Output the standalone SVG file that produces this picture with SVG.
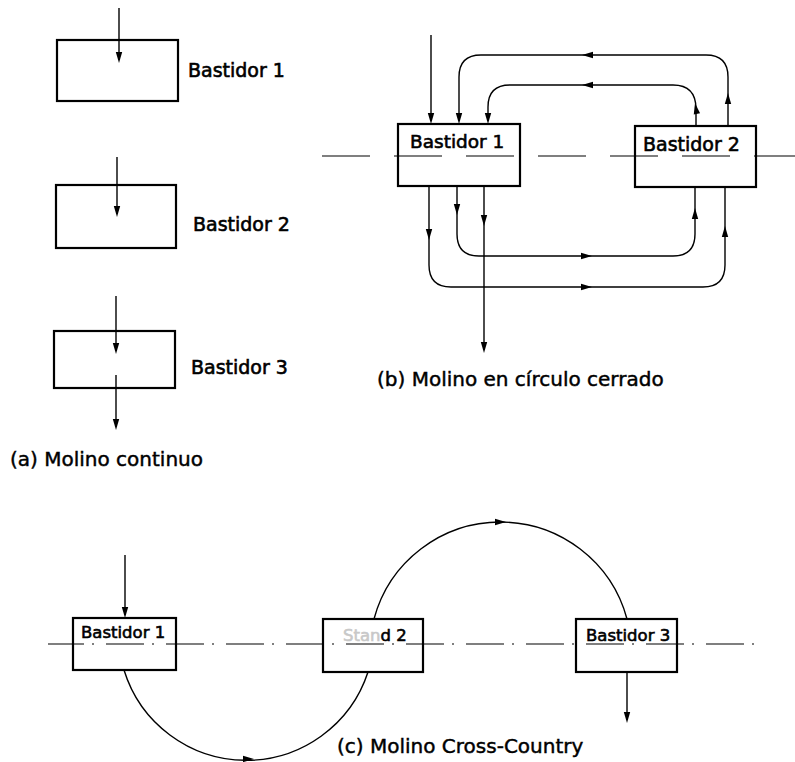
<svg xmlns="http://www.w3.org/2000/svg" xmlns:xlink="http://www.w3.org/1999/xlink" width="795" height="762" viewBox="0 0 795 762">
<style>
.box{fill:none;stroke:#000;stroke-width:2.2}
.ln{fill:none;stroke:#000;stroke-width:1.4}
.cl{fill:none;stroke:#000;stroke-width:1.2}
.t{font-family:"DejaVu Sans","Liberation Sans",sans-serif;fill:#000;stroke:#000;stroke-width:0.6}
.cap{font-family:"DejaVu Sans","Liberation Sans",sans-serif;font-size:20px;fill:#000;stroke:#000;stroke-width:0.45}
</style>
<defs>
<path id="ah" d="M0,0 L-11,-3.2 L-11,3.2 Z" fill="#000"/>
</defs>
<rect width="795" height="762" fill="#fff"/>

<!-- (a) -->
<g id="a1"><rect class="box" x="57" y="40" width="121" height="61"/><text class="t" x="188" y="77" font-size="19">Bastidor 1</text></g>
<g id="a2"><rect class="box" x="56" y="185" width="120" height="63"/><text class="t" x="193" y="231" font-size="19">Bastidor 2</text></g>
<g id="a3"><rect class="box" x="54" y="331" width="121" height="57"/><text class="t" x="191" y="374" font-size="19">Bastidor 3</text></g>
<text id="capA" class="cap" x="10" y="466">(a) Molino continuo</text>

<!-- (b) -->
<line class="cl" x1="322" y1="156" x2="795" y2="156" stroke-dasharray="48 24"/>
<g id="b1"><rect class="box" x="398" y="124" width="122" height="62"/><text class="t" x="410" y="148" font-size="18.5">Bastidor 1</text></g>
<g id="b2"><rect class="box" x="635" y="126" width="121" height="61"/><text class="t" x="643" y="151" font-size="19">Bastidor 2</text></g>
<text id="capB" class="cap" x="377" y="386">(b) Molino en círculo cerrado</text>

<!-- (c) -->
<line class="cl" x1="48" y1="644" x2="754" y2="644" stroke-dasharray="38 8 2 12" stroke-dashoffset="2"/>
<g id="c1"><rect class="box" x="73" y="618" width="103" height="52"/><text class="t" x="81" y="638" font-size="16.5">Bastidor 1</text></g>
<g id="c2"><rect class="box" x="323" y="619" width="100" height="53"/><text class="t" x="343" y="641" font-size="16.5"><tspan fill="#c8c8c8" stroke="#c8c8c8">Stan</tspan>d 2</text></g>
<g id="c3"><rect class="box" x="576" y="619" width="101" height="53"/><text class="t" x="586" y="641" font-size="16.5">Bastidor 3</text></g>
<text id="capC" class="cap" x="337" y="753">(c) Molino Cross-Country</text>

<g id="connectors">
<!-- (a) -->
<line class="ln" x1="119" y1="8" x2="119" y2="60"/><use xlink:href="#ah" transform="translate(119,63) rotate(90)"/>
<line class="ln" x1="117" y1="157" x2="117" y2="214"/><use xlink:href="#ah" transform="translate(117,217) rotate(90)"/>
<line class="ln" x1="116" y1="296" x2="116" y2="351"/><use xlink:href="#ah" transform="translate(116,354) rotate(90)"/>
<line class="ln" x1="116" y1="375" x2="116" y2="427"/><use xlink:href="#ah" transform="translate(116,430) rotate(90)"/>

<!-- (b) -->
<line class="ln" x1="431" y1="35" x2="431" y2="121"/><use xlink:href="#ah" transform="translate(431,124) rotate(90)"/>
<path class="ln" d="M728,126 V77 Q728,55 706,55 H481 Q459,55 459,77 V121"/>
<use xlink:href="#ah" transform="translate(728,93) rotate(-90)"/>
<use xlink:href="#ah" transform="translate(582,55) rotate(180)"/>
<use xlink:href="#ah" transform="translate(459,124) rotate(90)"/>
<path class="ln" d="M696,126 V109 Q696,85 673,85 H510 Q488,85 488,107 V121"/>
<use xlink:href="#ah" transform="translate(695,103) rotate(-100)"/>
<use xlink:href="#ah" transform="translate(582,85) rotate(180)"/>
<use xlink:href="#ah" transform="translate(488,124) rotate(90)"/>
<path class="ln" d="M429,186 V265 Q429,287 451,287 H703 Q725,287 725,265 V187"/>
<use xlink:href="#ah" transform="translate(429,240) rotate(90)"/>
<use xlink:href="#ah" transform="translate(592,287)"/>
<use xlink:href="#ah" transform="translate(725,226) rotate(-90)"/>
<path class="ln" d="M457,186 V234 Q457,256 479,256 H673 Q695,256 695,234 V187"/>
<use xlink:href="#ah" transform="translate(457,215) rotate(90)"/>
<use xlink:href="#ah" transform="translate(592,256)"/>
<use xlink:href="#ah" transform="translate(695,208) rotate(-90)"/>
<line class="ln" x1="484" y1="186" x2="484" y2="350"/>
<use xlink:href="#ah" transform="translate(484,226) rotate(90)"/>
<use xlink:href="#ah" transform="translate(484,353) rotate(90)"/>

<!-- (c) -->
<line class="ln" x1="125" y1="555" x2="125" y2="615"/><use xlink:href="#ah" transform="translate(125,618) rotate(90)"/>
<path class="ln" d="M124,670 A128,128 0 0 0 368,672"/>
<use xlink:href="#ah" transform="translate(254,759)"/>
<path class="ln" d="M374,619 A131,131 0 0 1 627,619"/>
<use xlink:href="#ah" transform="translate(506,522)"/>
<line class="ln" x1="627" y1="672" x2="627" y2="720"/><use xlink:href="#ah" transform="translate(627,723) rotate(90)"/>
</g>
</svg>
